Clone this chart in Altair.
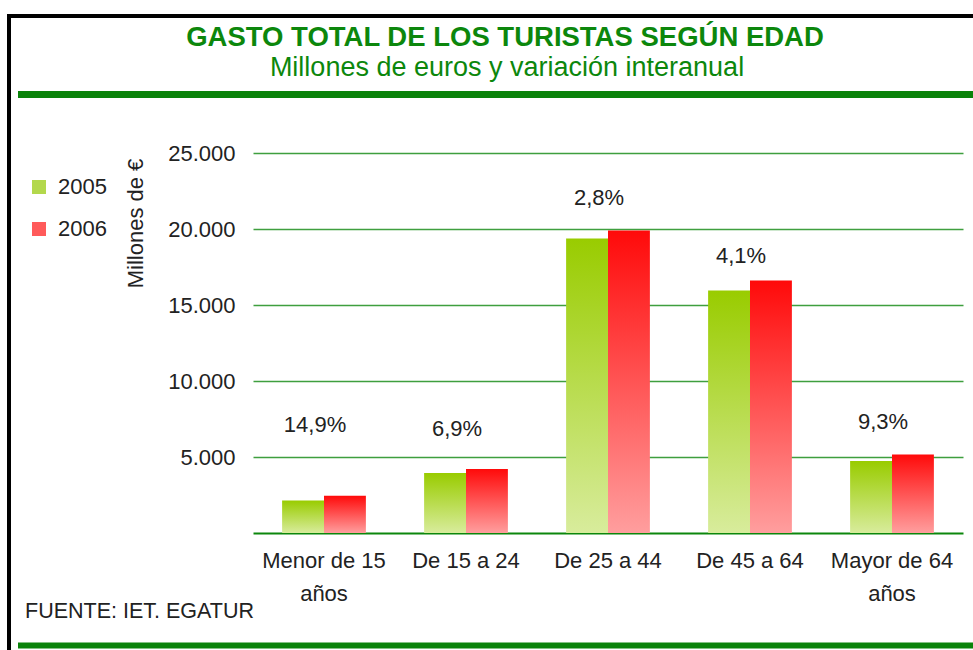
import altair as alt
import pandas as pd

# ---- data ----
categories = ["Menor de 15 años", "De 15 a 24", "De 25 a 44", "De 45 a 64", "Mayor de 64 años"]
years = ["2005", "2006"]
gasto_2005 = [2130, 3940, 19380, 15955, 4730]
gasto_2006 = [2447, 4212, 19908, 16610, 5170]
variacion = ["14,9%", "6,9%", "2,8%", "4,1%", "9,3%"]
variacion_y = [7080, 6820, 22040, 18220, 7280]
y_ticks = [5000, 10000, 15000, 20000, 25000]

title_text = "GASTO TOTAL DE LOS TURISTAS SEGÚN EDAD"
subtitle_text = "Millones de euros y variación interanual"
source_text = "FUENTE: IET. EGATUR"
y_title = "Millones de €"

rows = []
for c, a, b in zip(categories, gasto_2005, gasto_2006):
    rows.append({"edad": c, "anio": "2005", "gasto": a})
    rows.append({"edad": c, "anio": "2006", "gasto": b})
df = pd.DataFrame(rows)
# label positions use the same y field so the axis is shared
df_lab = pd.DataFrame({"edad": categories, "var": variacion, "gasto": variacion_y})
df_leg = pd.DataFrame({"anio": years})
one = pd.DataFrame({"k": [0]})

FONT = "Liberation Sans"
TXT = "#222222"
GREEN = "#0c870c"
GRID = "#3f9f3f"

W, H = 710, 380
PL, PT = 253, 153

green_grad = alt.LinearGradient(
    gradient="linear", x1=0, y1=0, x2=0, y2=1,
    stops=[alt.GradientStop(color="#99cc00", offset=0),
           alt.GradientStop(color="#d8ec9c", offset=1)])
red_grad = alt.LinearGradient(
    gradient="linear", x1=0, y1=0, x2=0, y2=1,
    stops=[alt.GradientStop(color="#ff0a0a", offset=0),
           alt.GradientStop(color="#ff9e9e", offset=1)])

label_expr = ("datum.value == 'Menor de 15 años' ? ['Menor de 15', 'años'] : "
              "datum.value == 'Mayor de 64 años' ? ['Mayor de 64', 'años'] : datum.value")

x_enc = alt.X("edad:N", sort=categories,
              scale=alt.Scale(paddingInner=0.41, paddingOuter=0.205),
              axis=alt.Axis(title=None, labelAngle=0, labelFontSize=22, labelColor=TXT,
                            labelLineHeight=33, labelPadding=17, ticks=False,
                            domainColor=GREEN, domainWidth=2, labelExpr=label_expr,
                            labelFont=FONT, labelLimit=300))
xo_enc = alt.XOffset("anio:N", scale=alt.Scale(domain=years))
y_enc = alt.Y("gasto:Q", scale=alt.Scale(domain=[0, 25000], nice=False),
              axis=alt.Axis(values=y_ticks, grid=True, gridColor=GRID, gridWidth=1.5,
                            domain=False, ticks=False, labelPadding=18, labelFontSize=22,
                            labelColor=TXT, labelFont=FONT,
                            labelExpr="replace(format(datum.value, ','), ',', '.')",
                            title=y_title, titleX=135 - PL, titleY=223 - PT, titleAngle=270,
                            titleFontSize=22, titleFontWeight="normal", titleColor=TXT,
                            titleFont=FONT, titleAlign="center", titleBaseline="middle"))

bars05 = alt.Chart(df).transform_filter("datum.anio == '2005'").mark_bar(
    color=green_grad).encode(x=x_enc, xOffset=xo_enc, y=y_enc)
bars06 = alt.Chart(df).transform_filter("datum.anio == '2006'").mark_bar(
    color=red_grad).encode(x=x_enc, xOffset=xo_enc, y=y_enc)

labels = alt.Chart(df_lab).mark_text(fontSize=22, color=TXT, font=FONT, dx=-9,
                                     baseline="middle").encode(
    x=x_enc, y=y_enc, text="var:N")

legend_layer = alt.Chart(df_leg).mark_square(size=196, opacity=0).encode(
    color=alt.Color("anio:N", scale=alt.Scale(domain=years, range=["#b3d84c", "#ff5a5a"]),
                    legend=alt.Legend(title=None, orient="none", legendX=28 - PL,
                                      legendY=176 - PT, symbolType="square",
                                      symbolSize=196, symbolOpacity=1,
                                      symbolStrokeWidth=0, labelFontSize=22,
                                      labelColor=TXT, labelFont=FONT, labelOffset=8,
                                      rowPadding=20, padding=0)))

def rule(x, x2, y, y2, color, width):
    return alt.Chart(one).mark_rule(color=color, strokeWidth=width).encode(
        x=alt.value(x - PL), x2=alt.value(x2 - PL), y=alt.value(y - PT), y2=alt.value(y2 - PT))

frame_left = rule(9, 9, 14, 650, "black", 4)
frame_top = rule(7, 973, 16, 16, "black", 4)
green_top = rule(18, 973, 94.5, 94.5, "#0a830a", 7)
green_bot = rule(18, 973, 645.5, 645.5, "#0a830a", 6)

def text(t, x, y, size, weight="normal", color=TXT, align="center"):
    return alt.Chart(one).mark_text(fontSize=size, fontWeight=weight, color=color, font=FONT,
                                    align=align, baseline="middle").encode(
        x=alt.value(x - PL), y=alt.value(y - PT), text=alt.value(t))

t_title = text(title_text, 505, 38, 27.5, "bold", GREEN)
t_sub = text(subtitle_text, 507, 68, 27, "normal", GREEN)
t_src = text(source_text, 25, 612, 21.5, "normal", TXT, "left")

chart = alt.layer(
    frame_left, frame_top, green_top, green_bot,
    bars05, bars06, labels, legend_layer, t_title, t_sub, t_src
).properties(
    width=W, height=H,
    padding={"left": PL, "top": PT, "right": 973 - PL - W, "bottom": 650 - PT - H},
    autosize=alt.AutoSizeParams(type="none"),
    background="white"
).configure(font=FONT).configure_view(stroke=None)

chart.save("out.html", embed_options={"renderer": "svg", "actions": False})
